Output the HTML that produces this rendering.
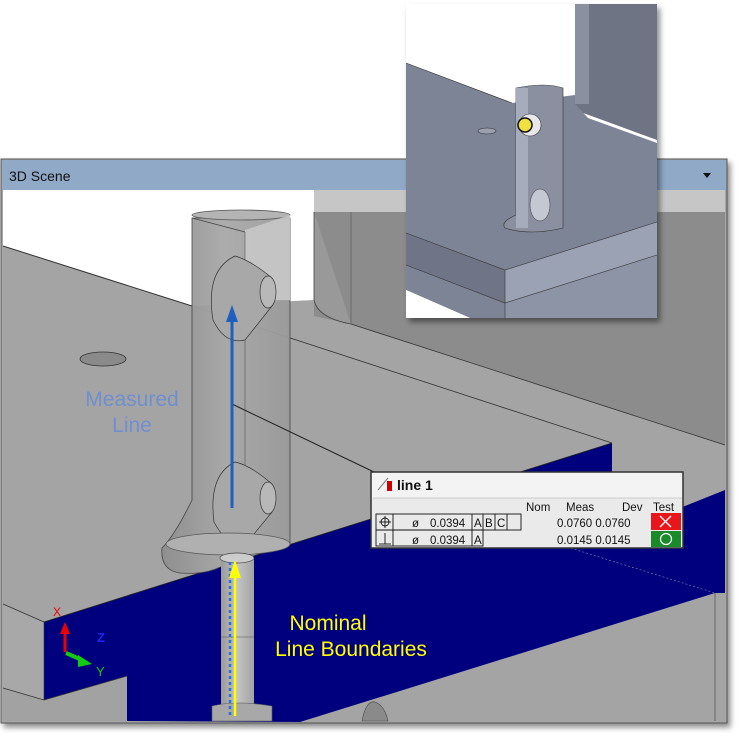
<!DOCTYPE html>
<html><head><meta charset="utf-8"><style>
html,body{margin:0;padding:0;background:#fff;width:740px;height:741px;overflow:hidden}
svg{display:block}
text{font-family:"Liberation Sans",sans-serif}
</style></head><body>
<svg width="740" height="741" viewBox="0 0 740 741" xmlns="http://www.w3.org/2000/svg">
<defs>
<filter id="sh" x="-5%" y="-5%" width="115%" height="115%"><feDropShadow dx="3" dy="4" stdDeviation="3" flood-color="#000" flood-opacity="0.45"/></filter>
<linearGradient id="col" x1="0" x2="1"><stop offset="0" stop-color="#8e8e8e"/><stop offset="0.5" stop-color="#a8a8a8"/><stop offset="1" stop-color="#9a9a9a"/></linearGradient>
<linearGradient id="tube" x1="0" x2="1"><stop offset="0" stop-color="#9a9a9a"/><stop offset="0.5" stop-color="#c4c4c4"/><stop offset="1" stop-color="#a2a2a2"/></linearGradient>
</defs>
<g filter="url(#sh)">
<rect x="1" y="159" width="726" height="564" fill="#a6a6a6" stroke="#555" stroke-width="1"/>
</g>
<rect x="2" y="160" width="724" height="30" fill="#8fa9c6"/>
<text x="9" y="181" font-size="14" fill="#111">3D Scene</text>
<path d="M703 173 l8 0 l-4 5z" fill="#111"/>
<rect x="3" y="190" width="722" height="531" fill="#a4a4a4"/>
<polygon points="3,190 314,190 314,300 192,306 3,246" fill="#fff"/>
<line x1="3" y1="246" x2="192" y2="306" stroke="#333" stroke-width="1"/>
<rect x="314" y="190" width="411" height="22" fill="#c6c6c6"/>
<polygon points="314,212 725,212 725,445 351,324 314,316" fill="#8c8c8c"/>
<path d="M314,212 L314,300 Q318,318 351,324" fill="#999" stroke="#444" stroke-width="0.8"/>
<line x1="351" y1="212" x2="351" y2="324" stroke="#666" stroke-width="0.8"/>
<line x1="351" y1="324" x2="725" y2="445" stroke="#333" stroke-width="0.8"/>
<line x1="192" y1="306" x2="612" y2="443" stroke="#333" stroke-width="0.8"/>
<!-- blue section -->
<polygon points="44,622 612,443 612,472 660,516 725,490 725,593 715,593 300,722 127,721 127,676 44,700" fill="#00007f"/>
<line x1="44" y1="622" x2="612" y2="443" stroke="#222" stroke-width="0.8"/>
<line x1="567" y1="547" x2="715" y2="593" stroke="#8888aa" stroke-width="0.6" stroke-dasharray="2,2"/>
<line x1="715" y1="593" x2="715" y2="721" stroke="#444" stroke-width="0.6"/>
<path d="M362,721 Q366,700 375,702 Q385,706 388,721Z" fill="#8a8a8a" stroke="#444" stroke-width="0.6"/>
<polygon points="3,604 44,622 44,700 3,688" fill="#a8a8a8"/>
<polygon points="3,688 44,700 127,676 127,721 3,721" fill="#a2a2a2"/>
<line x1="3" y1="604" x2="44" y2="622" stroke="#333" stroke-width="0.8"/>
<line x1="44" y1="700" x2="127" y2="676" stroke="#333" stroke-width="0.8"/>
<line x1="3" y1="688" x2="44" y2="700" stroke="#333" stroke-width="0.8"/>
<line x1="44" y1="622" x2="44" y2="700" stroke="#333" stroke-width="0.6"/>
<ellipse cx="103" cy="359" rx="23" ry="7" fill="#8a8a8a" stroke="#333" stroke-width="0.8"/>
<path d="M192,218 L192,500 Q175,535 162,548 Q160,570 180,573 Q215,576 235,557 L290,545 L290,218 Z" fill="url(#col)" fill-opacity="0.95" stroke="#444" stroke-width="0.8"/>
<ellipse cx="241" cy="215" rx="49" ry="5" fill="#b4b4b4" stroke="#555" stroke-width="0.8"/>
<polygon points="245,230 290,215 290,300 245,300" fill="#c8c8c8" opacity="0.9"/>
<line x1="192" y1="218" x2="245" y2="232" stroke="#444" stroke-width="0.8"/>
<line x1="245" y1="232" x2="245" y2="560" stroke="#555" stroke-width="0.6"/>
<path d="M235,256 Q205,270 213,320 Q225,345 245,340 L272,306 L272,278 Q250,260 235,256Z" fill="#a8a8a8" stroke="#333" stroke-width="0.7"/>
<ellipse cx="268" cy="292" rx="8" ry="16" fill="#b8b8b8" stroke="#333" stroke-width="0.7"/>
<path d="M235,462 Q208,475 214,522 Q228,548 245,545 L272,512 L272,484 Q250,465 235,462Z" fill="#a8a8a8" stroke="#333" stroke-width="0.7"/>
<ellipse cx="268" cy="498" rx="8" ry="16" fill="#b8b8b8" stroke="#333" stroke-width="0.7"/>
<ellipse cx="228" cy="544" rx="62" ry="11" fill="#b0b0b0" stroke="#555" stroke-width="0.7"/>
<rect x="221" y="558" width="33" height="163" fill="url(#tube)"/>
<ellipse cx="237" cy="558" rx="17" ry="5" fill="#ccc" stroke="#444" stroke-width="0.7"/>
<path d="M212,721 L212,706 Q237,700 272,706 L272,721Z" fill="#a8a8a8" stroke="#555" stroke-width="0.6"/>
<line x1="221" y1="637" x2="254" y2="637" stroke="#555" stroke-width="0.6"/>
<line x1="232" y1="404" x2="374" y2="472" stroke="#222" stroke-width="1"/>
<line x1="232" y1="508" x2="232" y2="318" stroke="#1f5fbf" stroke-width="3"/>
<polygon points="226,322 232,305 238,322" fill="#1f5fbf"/>
<line x1="230" y1="562" x2="230" y2="718" stroke="#2a6fe0" stroke-width="2.5" stroke-dasharray="3,3"/>
<line x1="235" y1="716" x2="235" y2="574" stroke="#ffff00" stroke-width="2.5"/>
<polygon points="229,578 235,560 241,578" fill="#ffff00"/>
<text x="132" y="406" font-size="21" fill="#6f8fcf" text-anchor="middle">Measured</text>
<text x="132" y="432" font-size="21" fill="#6f8fcf" text-anchor="middle">Line</text>
<text x="328" y="630" font-size="21" fill="#ffff00" text-anchor="middle">Nominal</text>
<text x="351" y="656" font-size="21" fill="#ffff00" text-anchor="middle">Line Boundaries</text>
<line x1="65" y1="652" x2="65" y2="632" stroke="#e00" stroke-width="3"/>
<polygon points="60,634 65,622 70,634" fill="#e00"/>
<text x="53" y="616" font-size="12" fill="#e00">X</text>
<text x="97" y="642" font-size="13" fill="#22e" font-weight="bold">Z</text>
<line x1="66" y1="653" x2="82" y2="660" stroke="#1c1" stroke-width="4"/>
<polygon points="78,655 92,664 78,667" fill="#1c1"/>
<text x="96" y="676" font-size="13" fill="#1c1">Y</text>
<rect x="371" y="472" width="312" height="76" fill="#eaeaea" stroke="#333" stroke-width="1.5"/>
<rect x="372" y="473" width="310" height="25" fill="#f3f3f3"/>
<line x1="373" y1="498" x2="682" y2="498" stroke="#ccc"/>
<line x1="378" y1="490" x2="388" y2="478" stroke="#888" stroke-width="1.2"/>
<rect x="387" y="481" width="5" height="10" fill="#c00"/>
<text x="397" y="490" font-size="14" font-weight="bold" fill="#111">line 1</text>
<g font-size="11.5" fill="#111">
<text x="526" y="511">Nom</text>
<text x="566" y="511">Meas</text>
<text x="622" y="511">Dev</text>
<text x="653" y="511">Test</text>
<text x="557" y="527">0.0760 0.0760</text>
<text x="557" y="544">0.0145 0.0145</text>
<text x="412" y="527">ø</text><text x="430" y="527">0.0394</text>
<text x="412" y="544">ø</text><text x="430" y="544">0.0394</text>
<text x="474" y="527">A</text><text x="485" y="527">B</text><text x="497" y="527">C</text>
<text x="474" y="544">A</text>
</g>
<g fill="none" stroke="#111" stroke-width="0.9">
<rect x="376" y="514" width="145" height="16"/>
<rect x="376" y="530" width="107" height="16"/>
<line x1="393" y1="514" x2="393" y2="546"/>
<line x1="472" y1="514" x2="472" y2="546"/>
<line x1="483" y1="514" x2="483" y2="530"/>
<line x1="495" y1="514" x2="495" y2="530"/>
<line x1="507" y1="514" x2="507" y2="530"/>
<circle cx="385" cy="522" r="4"/><line x1="379" y1="522" x2="391" y2="522"/><line x1="385" y1="516" x2="385" y2="528"/>
<line x1="385" y1="533" x2="385" y2="544"/><line x1="379" y1="544" x2="391" y2="544"/>
</g>
<rect x="651" y="513" width="30" height="17" fill="#e8161a"/>
<path d="M660,516 l11,11 M671,516 l-11,11" stroke="#fff" stroke-width="1.3"/>
<rect x="651" y="531" width="30" height="16" fill="#1a8a2a"/>
<circle cx="666" cy="539" r="5.5" fill="none" stroke="#fff" stroke-width="1.2"/>
<g filter="url(#sh)">
<rect x="406" y="4" width="251" height="314" fill="#fff"/>
</g>
<polygon points="575,4 657,4 657,140 575,110" fill="#6e7484"/>
<rect x="575" y="4" width="14" height="100" fill="#8a90a0"/>
<polygon points="406,63 512,103 575,95 575,104 588,118 657,143 657,222 505,270 406,233" fill="#7d8496"/>
<polygon points="505,270 657,222 657,255 505,303" fill="#9ba2b3"/>
<polygon points="406,233 505,270 505,303 406,265" fill="#6f7586"/>
<polygon points="406,265 505,303 505,318 470,318 406,290" fill="#7d8496"/>
<polygon points="505,303 657,255 657,318 505,318" fill="#8d94a6"/>
<polygon points="406,290 470,318 406,318" fill="#fff"/>
<g stroke="#333" stroke-width="0.6" fill="none">
<polyline points="406,63 512,103"/>
<polyline points="406,233 505,270 657,222"/>
<polyline points="505,270 505,318"/>
<polyline points="406,265 505,303 657,255"/>
</g>
<ellipse cx="487" cy="131" rx="9" ry="3" fill="#9aa0b0" stroke="#333" stroke-width="0.6"/>
<path d="M516,88 L516,215 Q500,222 505,228 Q530,236 563,228 L563,88 Q545,82 516,88Z" fill="#8a90a0" stroke="#333" stroke-width="0.6"/>
<rect x="516" y="88" width="12" height="140" fill="#a6acbb"/>
<circle cx="530" cy="125" r="11" fill="#e8e8ec" stroke="#333" stroke-width="0.6"/>
<circle cx="525" cy="125" r="7" fill="#f0e040" stroke="#111" stroke-width="1.5"/>
<ellipse cx="540" cy="205" rx="10" ry="16" fill="#c4c8d2" stroke="#333" stroke-width="0.5"/>
</svg>
</body></html>
